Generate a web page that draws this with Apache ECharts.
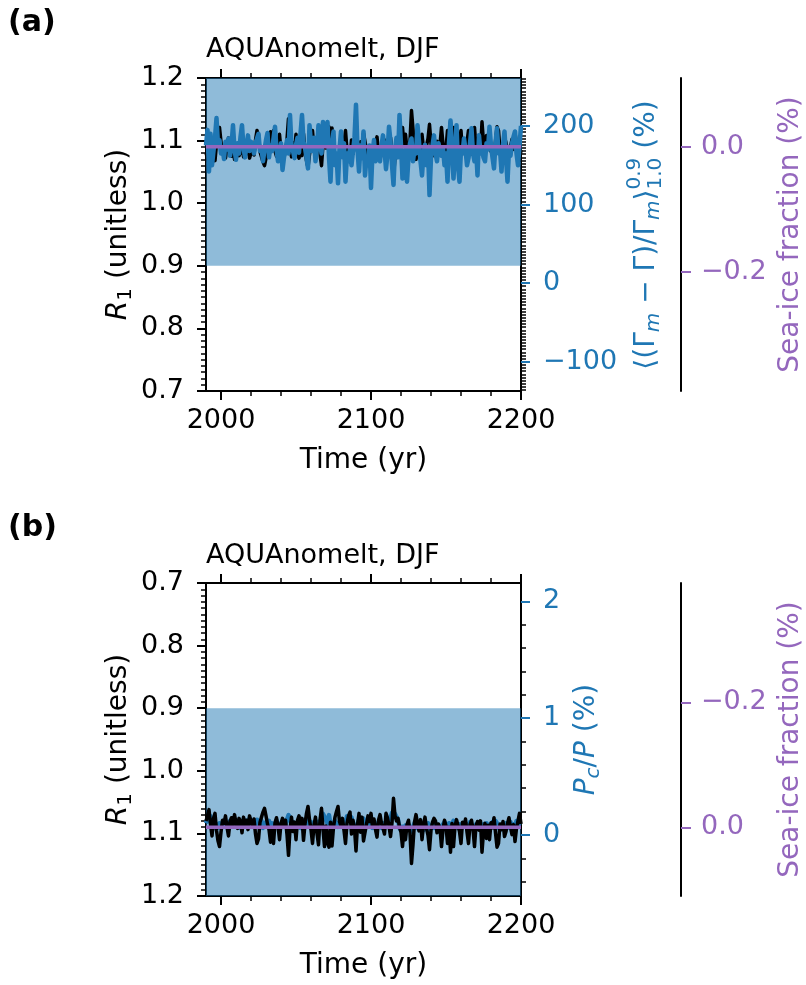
<!DOCTYPE html>
<html><head><meta charset="utf-8">
<script src="https://cdn.jsdelivr.net/npm/echarts@6/dist/echarts.min.js"></script>
<style>html,body{margin:0;padding:0;background:#fff}#c{width:806px;height:985px}</style>
</head><body><div id="c"></div>
<script>
// ---------------- DATA ----------------
const firstYear = 1990, lastYear = 2200;
const years = [];
for (let y = firstYear; y <= lastYear; y++) years.push(y);

// R1 (unitless), DJF, one value per year 1990..2200
const r1 = [
 1.080,1.072,1.062,1.085,1.104,1.076,1.068,1.095,1.112,1.121,
 1.098,1.079,1.084,1.072,1.090,1.104,1.081,1.075,1.088,1.070,
 1.083,1.092,1.076,1.081,1.099,1.074,1.086,1.079,1.094,1.072,
 1.080,1.088,1.077,1.101,1.116,1.109,1.082,1.074,1.066,1.060,
 1.072,1.085,1.094,1.114,1.092,1.116,1.083,1.075,1.088,1.110,
 1.084,1.076,1.089,1.079,1.102,1.135,1.093,1.074,1.097,1.082,
 1.110,1.079,1.072,1.088,1.076,1.111,1.085,1.068,1.057,1.078,
 1.094,1.116,1.087,1.074,1.100,1.118,1.079,1.060,1.093,1.121,
 1.088,1.115,1.122,1.082,1.120,1.090,1.074,1.065,1.057,1.081,
 1.089,1.076,1.095,1.116,1.084,1.072,1.066,1.101,1.079,1.092,
 1.128,1.086,1.068,1.098,1.074,1.112,1.114,1.085,1.072,1.081,
 1.068,1.090,1.077,1.094,1.106,1.079,1.070,1.084,1.092,1.101,
 1.068,1.075,1.088,1.105,1.083,1.044,1.072,1.080,1.076,1.090,
 1.098,1.121,1.092,1.110,1.086,1.079,1.100,1.148,1.118,1.082,
 1.070,1.084,1.096,1.078,1.110,1.087,1.074,1.092,1.103,1.126,
 1.095,1.082,1.076,1.080,1.099,1.085,1.093,1.121,1.094,1.079,
 1.088,1.116,1.090,1.130,1.084,1.121,1.089,1.078,1.075,1.097,
 1.116,1.082,1.090,1.077,1.098,1.116,1.086,1.079,1.093,1.121,
 1.088,1.081,1.095,1.080,1.130,1.097,1.084,1.108,1.087,1.110,
 1.083,1.091,1.075,1.099,1.122,1.116,1.085,1.094,1.081,1.105,
 1.097,1.084,1.075,1.090,1.102,1.086,1.113,1.092,1.080,1.068,
 1.085
];

// <(Gamma_m - Gamma)/Gamma_m> (%), panel (a)
const gammaPct = [
 175,195,142,190,150,168,185,210,176,182,
 165,172,158,180,170,184,162,175,201,170,
 157,178,165,186,201,172,160,175,188,168,
 180,176,165,178,184,190,168,172,155,170,
 182,191,160,175,168,184,199,170,155,162,
 178,144,160,170,182,165,214,175,168,159,
 176,185,166,190,214,180,172,160,146,201,
 178,168,185,155,172,201,180,165,205,176,
 190,205,160,129,175,193,150,165,127,170,
 193,160,178,129,165,155,172,150,168,185,
 227,170,142,175,159,193,137,160,150,175,
 121,165,182,155,172,160,155,175,188,170,
 145,165,199,180,150,125,170,185,160,214,
 175,133,165,170,129,160,178,184,155,170,
 165,201,180,155,137,165,176,150,172,112,
 160,175,188,165,155,178,168,162,172,150,
 165,129,178,207,165,133,170,201,150,129,
 170,165,184,170,150,159,178,197,165,155,
 172,137,188,165,170,160,155,178,170,199,
 175,160,146,178,197,165,170,142,175,193,
 160,129,170,162,178,186,193,165,150,175,
 200
];

// Pc/P (%), panel (b)
const pcOverP = [
 0.10,0.14,0.12,0.16,0.09,0.07,0.11,0.05,0.08,0.10,
 0.06,0.09,0.11,0.07,0.10,0.05,0.12,0.08,0.11,0.13,
 0.07,0.10,0.12,0.06,0.11,0.13,0.08,0.12,0.10,0.14,
 0.09,0.12,0.07,0.11,0.13,0.08,0.10,0.12,0.06,0.09,
 0.11,0.08,0.12,0.07,0.10,0.05,0.09,0.12,0.08,0.06,
 0.10,0.08,0.12,0.09,0.13,0.17,0.15,0.09,0.11,0.07,
 0.10,0.08,0.12,0.06,0.09,0.11,0.13,0.10,0.14,0.08,
 0.11,0.07,0.10,0.12,0.08,0.11,0.09,0.15,0.18,0.17,
 0.13,0.10,0.17,0.08,0.06,0.10,0.12,0.09,0.07,0.11,
 0.08,0.10,0.06,0.09,0.16,0.17,0.12,0.15,0.09,0.07,
 0.05,0.10,0.13,0.08,0.11,0.14,0.07,0.09,0.12,0.10,
 0.08,0.06,0.10,0.07,0.09,0.11,0.08,0.06,0.10,0.09,
 0.07,0.10,0.12,0.14,0.19,0.20,0.18,0.19,0.13,0.06,
 0.04,0.07,0.05,0.08,0.06,0.09,0.05,0.03,0.07,0.10,
 0.06,0.08,0.05,0.09,0.07,0.04,0.08,0.06,0.10,0.05,
 0.07,0.09,0.06,0.10,0.08,0.05,0.07,0.04,0.09,0.11,
 0.08,0.06,0.10,0.07,0.09,0.12,0.13,0.08,0.06,0.09,
 0.05,0.08,0.10,0.07,0.09,0.06,0.11,0.08,0.05,0.07,
 0.09,0.10,0.06,0.08,0.05,0.09,0.07,0.10,0.08,0.06,
 0.09,0.11,0.07,0.12,0.10,0.06,0.08,0.05,0.09,0.07,
 0.10,0.06,0.08,0.11,0.07,0.09,0.05,0.12,0.08,0.10,
 0.09
];

// Sea-ice fraction (%) — zero throughout
const seaIceYears = [1990, 2200];
const seaIce = [0.0, 0.0];

// shaded R1 band
const r1Band = [0.9, 1.2];

// tick labels
const xMajorTicks = [2000, 2100, 2200];
const xMinorTicks = [2020, 2040, 2060, 2080, 2120, 2140, 2160, 2180];
const gammaTicks = [-100, 0, 100, 200];
const pcTicks = [0, 1, 2];
const pcMinorTicks = [-0.4, -0.2, 0.2, 0.4, 0.6, 0.8, 1.2, 1.4, 1.6, 1.8];
const seaIceTicks = [-0.2, 0.0];

// ---------------- STYLE ----------------
const FONT = "'DejaVu Sans', sans-serif";
const BLUE = '#1f77b4', PURPLE = '#9467bd', BAND = 'rgba(31,119,180,0.5)';
const TICK_FS = 27, LABEL_FS = 28, TITLE_FS = 27;
const MAJ = 9, MINL = 5;
const GL = 206, GW = 317, GH = 313;

function minorList(lo, hi, step, skip) {
  const out = [];
  for (let k = Math.ceil(lo / step); k * step <= hi; k++) {
    const v = +(k * step).toFixed(6);
    if (!skip.includes(v)) out.push(v);
  }
  return out;
}
const fmtMinus = (v, d) => (v < 0 ? '\u2212' : '') + (d == null ? String(Math.abs(v)) : Math.abs(v).toFixed(d));
const pairs = (xs, ys) => xs.map((x, i) => [x, ys[i]]);

const panels = [
  { top: 78, inverse: false, blueMin: -137.3, blueMax: 261.0, blueTicks: gammaTicks,
    blueMinor: minorList(-136, 260, 4, gammaTicks), blueData: gammaPct, blueName: '',
    blueDec: null, iceMin: -0.391, iceMax: 0.110, blueOnTop: true },
  { top: 583, inverse: true, blueMin: -0.523, blueMax: 2.158, blueTicks: pcTicks,
    blueMinor: pcMinorTicks, blueData: pcOverP, blueName: '{i|P}{s|c}{n|/}{i|P}{n| (%)}',
    blueDec: null, iceMin: -0.391, iceMax: 0.110, blueOnTop: false }
];

const grid = [], xAxis = [], yAxis = [], series = [];
const richBlack = {
  i: { fontStyle: 'italic', fontSize: LABEL_FS, fontFamily: FONT, color: '#000', lineHeight: 34 },
  s: { fontSize: 20, fontFamily: FONT, color: '#000', lineHeight: 20, verticalAlign: 'bottom' },
  n: { fontSize: LABEL_FS, fontFamily: FONT, color: '#000', lineHeight: 34 }
};
const richBlue = {
  i: { fontStyle: 'italic', fontSize: LABEL_FS, fontFamily: FONT, color: BLUE, lineHeight: 34 },
  s: { fontStyle: 'italic', fontSize: 20, fontFamily: FONT, color: BLUE, lineHeight: 20, verticalAlign: 'bottom' },
  n: { fontSize: LABEL_FS, fontFamily: FONT, color: BLUE, lineHeight: 34 }
};

panels.forEach((p, g) => {
  grid.push({ left: GL, top: p.top, width: GW, height: GH, containLabel: false });
  const xb = { type: 'value', gridIndex: g, min: firstYear, max: lastYear, splitLine: { show: false } };
  const majTick = { show: true, customValues: xMajorTicks, length: MAJ, lineStyle: { color: '#000', width: 2 } };
  const minTick = { show: true, customValues: xMinorTicks, length: MINL, lineStyle: { color: '#000', width: 1.5 } };
  const xIdx = xAxis.length;
  xAxis.push(Object.assign({}, xb, { position: 'bottom',
    axisLine: { show: true, onZero: false, lineStyle: { color: '#000', width: 2 } },
    axisTick: majTick,
    axisLabel: { show: true, customValues: xMajorTicks, formatter: v => String(v), fontSize: TICK_FS, color: '#000', fontFamily: FONT, margin: 16 },
    name: 'Time (yr)', nameLocation: 'middle', nameGap: 56, nameMoveOverlap: false,
    nameTextStyle: { fontSize: LABEL_FS, color: '#000', fontFamily: FONT } }));
  xAxis.push(Object.assign({}, xb, { position: 'bottom', axisLine: { show: false, onZero: false },
    axisTick: minTick, axisLabel: { show: false } }));
  xAxis.push(Object.assign({}, xb, { position: 'top',
    axisLine: { show: true, onZero: false, lineStyle: { color: '#000', width: 2 } },
    axisTick: majTick, axisLabel: { show: false } }));
  xAxis.push(Object.assign({}, xb, { position: 'top', axisLine: { show: false, onZero: false },
    axisTick: minTick, axisLabel: { show: false } }));

  const yLeft = yAxis.length;
  yAxis.push({ type: 'value', gridIndex: g, position: 'left', min: 0.7, max: 1.2, interval: 0.1, inverse: p.inverse,
    axisLine: { show: true, onZero: false, lineStyle: { color: '#000', width: 2 } },
    axisTick: { show: true, length: MAJ, lineStyle: { color: '#000', width: 2 } },
    minorTick: { show: true, splitNumber: 10, length: MINL, lineStyle: { color: '#000', width: 1.5 } },
    splitLine: { show: false }, minorSplitLine: { show: false },
    axisLabel: { formatter: v => v.toFixed(1), fontSize: TICK_FS, color: '#000', fontFamily: FONT, margin: 22 },
    name: '{i|R}{s|1}{n| (unitless)}', nameLocation: 'middle', nameGap: 70, nameMoveOverlap: false,
    nameTextStyle: { rich: richBlack, fontSize: LABEL_FS, color: '#000', fontFamily: FONT } });

  const yBlue = yAxis.length;
  yAxis.push({ type: 'value', gridIndex: g, position: 'right', min: p.blueMin, max: p.blueMax,
    axisLine: { show: true, onZero: false, lineStyle: { color: '#000', width: 2 } },
    axisTick: { show: true, customValues: p.blueTicks, length: MAJ, lineStyle: { color: BLUE, width: 2 } },
    splitLine: { show: false },
    axisLabel: { customValues: p.blueTicks, formatter: v => fmtMinus(v, p.blueDec), fontSize: TICK_FS, color: BLUE, fontFamily: FONT, margin: 22 },
    name: p.blueName, nameLocation: 'middle', nameGap: 49, nameMoveOverlap: false,
    nameTextStyle: { rich: richBlue, fontSize: LABEL_FS, color: BLUE, fontFamily: FONT } });
  yAxis.push({ type: 'value', gridIndex: g, position: 'right', min: p.blueMin, max: p.blueMax,
    axisLine: { show: false, onZero: false },
    axisTick: { show: true, customValues: p.blueMinor, length: MINL, lineStyle: { color: '#000', width: 1.5 } },
    splitLine: { show: false }, axisLabel: { show: false } });

  const yIce = yAxis.length;
  yAxis.push({ type: 'value', gridIndex: g, position: 'right', offset: 160, min: p.iceMin, max: p.iceMax, inverse: p.inverse,
    axisLine: { show: true, onZero: false, lineStyle: { color: '#000', width: 2 } },
    axisTick: { show: true, customValues: seaIceTicks, length: 10, lineStyle: { color: PURPLE, width: 2 } },
    splitLine: { show: false },
    axisLabel: { customValues: seaIceTicks, formatter: v => fmtMinus(v, 1), fontSize: TICK_FS, color: PURPLE, fontFamily: FONT, margin: 20 },
    name: 'Sea-ice fraction (%)', nameLocation: 'middle', nameGap: 96, nameMoveOverlap: false,
    nameTextStyle: { fontSize: LABEL_FS, color: PURPLE, fontFamily: FONT } });

  series.push({ type: 'line', xAxisIndex: xIdx, yAxisIndex: yLeft, data: pairs(years, r1), symbol: 'none',
    lineStyle: { opacity: 0 }, silent: true, z: 1,
    markArea: { silent: true, itemStyle: { color: BAND }, data: [[{ yAxis: r1Band[0] }, { yAxis: r1Band[1] }]] } });
  series.push({ type: 'line', xAxisIndex: xIdx, yAxisIndex: yLeft, data: pairs(years, r1), symbol: 'none',
    lineStyle: { color: '#000', width: 3.5, join: 'round' }, z: p.blueOnTop ? 2 : 3 });
  series.push({ type: 'line', xAxisIndex: xIdx, yAxisIndex: yBlue, data: pairs(years, p.blueData), symbol: 'none',
    lineStyle: { color: BLUE, width: 4.5, join: 'round' }, z: p.blueOnTop ? 3 : 2 });
  series.push({ type: 'line', xAxisIndex: xIdx, yAxisIndex: yIce, data: pairs(seaIceYears, seaIce), symbol: 'none',
    lineStyle: { color: PURPLE, width: 3.5 }, z: 4 });
});

// ---- stacked math label for panel (a) blue axis ----
const cv = document.createElement('canvas').getContext('2d');
function tw(t, size, st) { cv.font = (st || 'normal') + ' ' + size + 'px "DejaVu Sans"'; return cv.measureText(t).width; }
const gParts = [
  { t: '\u27E8(\u0393', s: 28 },
  { t: 'm', s: 20, st: 'italic', dy: 7 },
  { t: ' \u2212 \u0393)/\u0393', s: 28 },
  { t: 'm', s: 20, st: 'italic', dy: 7 },
  { t: '\u27E9', s: 28 },
  { stack: [{ t: '0.9', s: 20, dy: -12 }, { t: '1.0', s: 20, dy: 9 }] },
  { t: ' (%)', s: 28 }
];
let totalW = 0;
gParts.forEach(p => {
  p.w = p.stack ? Math.max(...p.stack.map(q => tw(q.t, q.s))) : tw(p.t, p.s, p.st);
  totalW += p.w;
});
let cx = -totalW / 2;
const gChildren = [];
function mkText(t, s, st, x, dy) {
  return { type: 'text', style: { text: t, x: x, y: dy || 0, font: (st || 'normal') + ' ' + s + 'px "DejaVu Sans"',
    fill: BLUE, align: 'left', verticalAlign: 'middle', textAlign: 'left', textVerticalAlign: 'middle' } };
}
gParts.forEach(p => {
  if (p.stack) p.stack.forEach(q => gChildren.push(mkText(q.t, q.s, null, cx, q.dy)));
  else gChildren.push(mkText(p.t, p.s, p.st, cx, p.dy));
  cx += p.w;
});

const option = {
  animation: false,
  textStyle: { fontFamily: FONT },
  title: [
    { text: 'AQUAnomelt, DJF', left: 206, top: 36, padding: 0,
      textStyle: { fontSize: TITLE_FS, fontWeight: 'normal', fontFamily: FONT, color: '#000' } },
    { text: 'AQUAnomelt, DJF', left: 206, top: 542, padding: 0,
      textStyle: { fontSize: TITLE_FS, fontWeight: 'normal', fontFamily: FONT, color: '#000' } }
  ],
  grid, xAxis, yAxis, series,
  graphic: [
    { type: 'text', left: 8, top: 8, style: { text: '(a)', font: 'bold 30px "DejaVu Sans"', fill: '#000' } },
    { type: 'text', left: 8, top: 513, style: { text: '(b)', font: 'bold 30px "DejaVu Sans"', fill: '#000' } },
    { type: 'group', x: 647, y: 235, rotation: Math.PI / 2, children: gChildren }
  ]
};
const chart = echarts.init(document.getElementById('c'), null, { renderer: 'canvas' });
chart.setOption(option);
</script></body></html>
